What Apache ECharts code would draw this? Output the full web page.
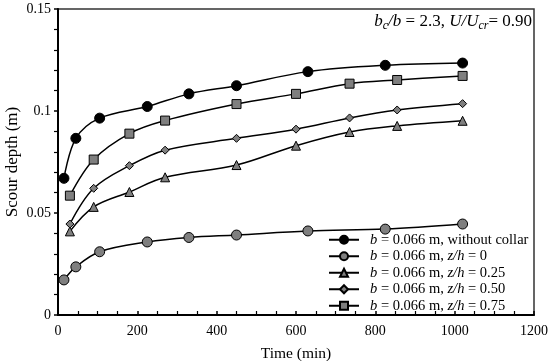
<!DOCTYPE html>
<html>
<head>
<meta charset="utf-8">
<script src="https://cdn.jsdelivr.net/npm/echarts@6/dist/echarts.min.js"></script>
<style>
html,body{margin:0;padding:0;background:#fff;}
#chart{width:550px;height:361px;}
</style>
</head>
<body>
<div id="chart"></div>
<script>
// ---- data ----
var timeA = [15, 45, 105, 225, 330, 450, 630, 825, 1020];
var timeB = [30, 90, 180, 270, 450, 600, 735, 855, 1020];
var withoutCollar = [0.067, 0.0866, 0.0965, 0.1022, 0.1084, 0.1124, 0.1193, 0.1224, 0.1235];
var zh0   = [0.0172, 0.0236, 0.031, 0.0358, 0.038, 0.0392, 0.0412, 0.0421, 0.0446];
var zh025 = [0.041, 0.053, 0.0603, 0.0675, 0.0735, 0.083, 0.0897, 0.0927, 0.0952];
var zh050 = [0.0446, 0.0621, 0.0732, 0.0808, 0.0866, 0.0911, 0.0966, 0.1005, 0.1036];
var zh075 = [0.0585, 0.0762, 0.0889, 0.0953, 0.1034, 0.1084, 0.1134, 0.1152, 0.1172];
var seriesNames = ['wc', 'z0', 'z25', 'z50', 'z75'];
var legendRich = {
  wc:  '{i|b}{n| = 0.066 m, without collar}',
  z0:  '{i|b}{n| = 0.066 m, }{i|z/h}{n| = 0}',
  z25: '{i|b}{n| = 0.066 m, }{i|z/h}{n| = 0.25}',
  z50: '{i|b}{n| = 0.066 m, }{i|z/h}{n| = 0.50}',
  z75: '{i|b}{n| = 0.066 m, }{i|z/h}{n| = 0.75}'
};
var xTicks = {min: 0, max: 1200, interval: 200};
var yTicks = {min: 0, max: 0.15, interval: 0.05};

function pairs(t, v) { return t.map(function (x, i) { return [x, v[i]]; }); }

var FONT = 'Liberation Serif';
var grey = '#7f7f7f';
var lineStyle = {color: '#000', width: 1.5};

function mk(name, t, v, symbol, size, fill) {
  return {
    name: name, type: 'line', smooth: 0.35,
    data: pairs(t, v),
    symbol: symbol, symbolSize: size,
    lineStyle: lineStyle,
    itemStyle: {color: fill, borderColor: '#000', borderWidth: 1},
    emphasis: {disabled: true}
  };
}

var chart = echarts.init(document.getElementById('chart'));
chart.setOption({
  animation: false,
  backgroundColor: '#fff',
  textStyle: {fontFamily: FONT},
  grid: {left: 58, right: 16, top: 9, bottom: 46, show: true, borderColor: '#333', borderWidth: 1.5,
    containLabel: false, outerBoundsMode: 'none'},
  title: {
    right: 18, top: 11, padding: 0,
    text: '{i|b}{s|c}{i|/b}{n| = 2.3, }{i|U/U}{s|cr}{n|= 0.90}',
    textStyle: {
      fontFamily: FONT, fontSize: 17, fontWeight: 'normal', color: '#000',
      rich: {
        i: {fontFamily: FONT, fontStyle: 'italic', fontSize: 17, color: '#000', lineHeight: 21},
        n: {fontFamily: FONT, fontSize: 17, color: '#000', lineHeight: 21},
        s: {fontFamily: FONT, fontStyle: 'italic', fontSize: 12, color: '#000', lineHeight: 12, verticalAlign: 'bottom'}
      }
    }
  },
  legend: {
    orient: 'vertical', left: 328, top: 231.5, padding: 0,
    itemWidth: 30, itemHeight: 10, itemGap: 0,
    data: seriesNames,
    formatter: function (name) { return legendRich[name]; },
    textStyle: {
      fontFamily: FONT, fontSize: 14.5, color: '#000', lineHeight: 16.5, padding: [0, 0, 0, 6],
      rich: {
        i: {fontFamily: FONT, fontStyle: 'italic', fontSize: 14.5, color: '#000', lineHeight: 16.5},
        n: {fontFamily: FONT, fontSize: 14.5, color: '#000', lineHeight: 16.5}
      }
    }
  },
  xAxis: {
    type: 'value', min: xTicks.min, max: xTicks.max, interval: xTicks.interval,
    name: 'Time (min)', nameLocation: 'middle', nameGap: 31, nameMoveOverlap: false,
    nameTextStyle: {fontFamily: FONT, fontSize: 15.5, color: '#000'},
    axisLine: {lineStyle: {color: '#000', width: 2}},
    axisTick: {inside: true, length: 4, lineStyle: {color: '#000', width: 1.5}},
    minorTick: {show: true, splitNumber: 4, length: 4, lineStyle: {color: '#000', width: 1.2}},
    splitLine: {show: false},
    axisLabel: {fontFamily: FONT, fontSize: 14, color: '#000', margin: 9,
      formatter: function (v) { return String(v); }}
  },
  yAxis: {
    type: 'value', min: yTicks.min, max: yTicks.max, interval: yTicks.interval,
    name: 'Scour depth (m)', nameLocation: 'middle', nameGap: 37, nameMoveOverlap: false,
    nameTextStyle: {fontFamily: FONT, fontSize: 17, color: '#000'},
    axisLine: {lineStyle: {color: '#000', width: 2}},
    axisTick: {length: 4, lineStyle: {color: '#000', width: 1.5}},
    minorTick: {show: true, splitNumber: 5, length: 4, lineStyle: {color: '#000', width: 1.2}},
    splitLine: {show: false},
    axisLabel: {fontFamily: FONT, fontSize: 14, color: '#000', margin: 7,
      formatter: function (v) { return String(v); }}
  },
  series: [
    mk('wc', timeA, withoutCollar, 'circle', 10, '#000'),
    mk('z0', timeA, zh0, 'circle', 10, grey),
    mk('z25', timeB, zh025, 'triangle', 9, grey),
    mk('z50', timeB, zh050, 'diamond', 8, grey),
    mk('z75', timeB, zh075, 'rect', 9, grey)
  ]
});
</script>
</body>
</html>
